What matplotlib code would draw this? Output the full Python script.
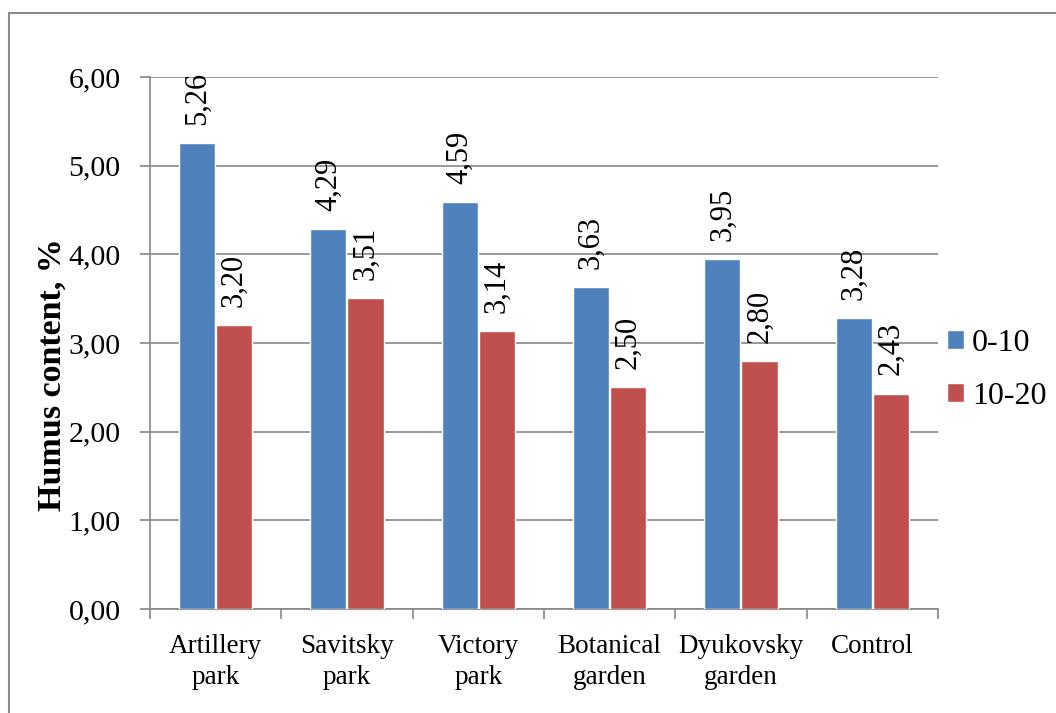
import numpy as np
import matplotlib.pyplot as plt
from matplotlib.patches import Rectangle

plt.rcParams["font.family"] = ["Liberation Serif", "DejaVu Serif"]

sites = ["Artillery\npark", "Savitsky\npark", "Victory\npark",
         "Botanical\ngarden", "Dyukovsky\ngarden", "Control"]
depth_0_10 = [5.26, 4.29, 4.59, 3.63, 3.95, 3.28]
depth_10_20 = [3.20, 3.51, 3.14, 2.50, 2.80, 2.43]
series_names = ["0-10", "10-20"]
y_ticks = [0, 1, 2, 3, 4, 5, 6]

BLUE = "#4F81BD"
RED = "#C0504D"
GRID = "#868686"

fig = plt.figure(figsize=(10.56, 7.13), dpi=100)
ax = fig.add_axes([0.1420, 0.1459, 0.7462, 0.7461])

# outer frame (only top and left visible in the reference)
fig.patches.append(Rectangle((9 / 1056, -0.05), 1.1, 1 - 13 / 713 + 0.05,
                             transform=fig.transFigure, fill=False,
                             edgecolor="#8c8c8c", linewidth=1.5, zorder=0))

x = np.arange(len(sites)) + 0.5
w = 0.275
gap = 0.008
off = w / 2 + gap / 2

b1 = ax.bar(x - off, depth_0_10, w, color=BLUE, edgecolor="white",
            linewidth=1, label=series_names[0], zorder=3)
b2 = ax.bar(x + off, depth_10_20, w, color=RED, edgecolor="white",
            linewidth=1, label=series_names[1], zorder=3)

for bars, vals in ((b1, depth_0_10), (b2, depth_10_20)):
    for bar, v in zip(bars, vals):
        ax.annotate(f"{v:.2f}".replace(".", ","),
                    (bar.get_x() + bar.get_width() / 2, v),
                    xytext=(0, 13), textcoords="offset points",
                    rotation=90, ha="center", va="bottom", fontsize=22,
                    zorder=4)

ax.set_xlim(0, len(sites))
ax.set_ylim(0, 6)
ax.set_yticks(y_ticks)
ax.set_yticklabels([f"{t:.2f}".replace(".", ",") for t in y_ticks], fontsize=21.5)
ax.yaxis.grid(True, color=GRID, linewidth=1.2, zorder=1)
ax.set_axisbelow(True)

ax.set_xticks(np.arange(len(sites) + 1))
ax.set_xticklabels([])
ax.set_xticks(x, minor=True)
ax.set_xticklabels(sites, minor=True, fontsize=19.5, linespacing=1.3)
ax.tick_params(axis="x", which="minor", length=0, pad=18)
ax.tick_params(axis="x", which="major", length=7, width=1.2, color=GRID)
ax.tick_params(axis="y", length=7, width=1.2, color=GRID, pad=14)

for s in ["top", "right"]:
    ax.spines[s].set_visible(False)
for s in ["left", "bottom"]:
    ax.spines[s].set_color(GRID)
    ax.spines[s].set_linewidth(1.2)

ax.set_ylabel("Humus content, %", fontsize=24.5, fontweight="bold")
ax.yaxis.set_label_coords(-0.104, 0.44)

leg = ax.legend(loc="center left", bbox_to_anchor=(1.011, 0.45), frameon=False,
                fontsize=23, handlelength=0.55, handleheight=0.55,
                handletextpad=0.25, labelspacing=0.75, borderaxespad=0.0,
                borderpad=0.0)

fig.savefig("out.png", dpi=100)
